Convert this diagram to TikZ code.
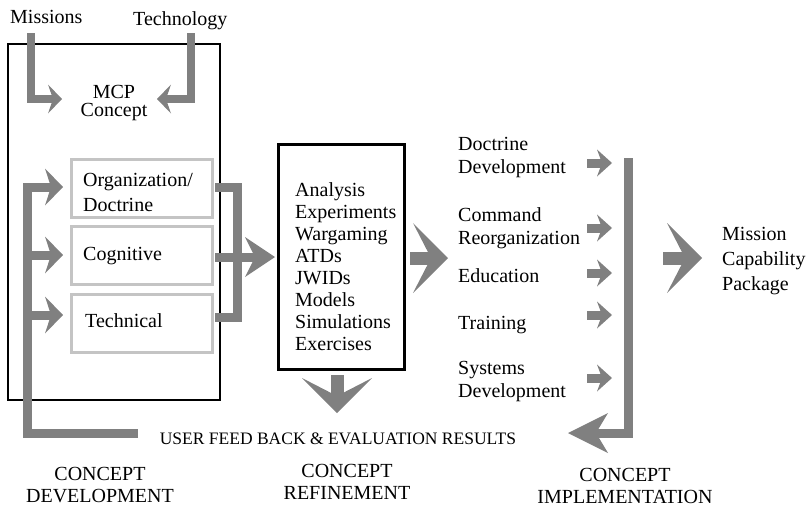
\documentclass[tikz,border=0pt]{standalone}
\usepackage{fontspec}
\setmainfont{Liberation Serif}
\usetikzlibrary{arrows.meta}
\definecolor{flowgray}{HTML}{808080}
\definecolor{boxgray}{HTML}{C4C4C4}
\tikzset{
  flow/.style={draw=flowgray, line width=9pt},
  bigflow/.style={draw=flowgray, line width=13pt},
  txt/.style={inner sep=0pt, align=left, font=\fontsize{20}{23}\selectfont},
  phase/.style={inner sep=0pt, align=center, font=\fontsize{20}{22.5}\selectfont},
  subbox/.style={draw=boxgray, line width=2.5pt, minimum width=141pt,
    minimum height=58pt, inner sep=0pt, anchor=north west},
  tipMC/.style={-{Stealth[length=14pt,width=29pt,inset=5pt,line width=0pt]}},
  tipL/.style={-{Stealth[length=18pt,width=37pt,inset=6pt,line width=0pt]}},
  tipC/.style={-{Stealth[length=30pt,width=40pt,inset=10pt,line width=0pt]}},
  tipBig/.style={-{Stealth[length=35pt,width=70pt,inset=18pt,line width=0pt]}},
  tipS/.style={-{Stealth[length=15pt,width=27pt,inset=5pt,line width=0pt]}},
  tipR/.style={-{Stealth[length=40pt,width=40pt,inset=12pt,line width=0pt]}},
}
\begin{document}
\begin{tikzpicture}[x=1pt, y=-1pt]
\useasboundingbox (0,0) rectangle (807,509);

% ---- inputs and concept development box
\node[txt, anchor=north west] (missions) at (10,10) {Missions};
\node[txt, anchor=north west] (technology) at (133,11) {Technology};
\node[draw=black, line width=1.5pt, minimum width=212pt, minimum height=356pt,
      inner sep=0pt, anchor=north west] (devbox) at (7,43) {};
\node[txt, anchor=north, align=center, font=\fontsize{20}{18.5}\selectfont]
      (mcp) at (114,85) {MCP\\Concept};

\node[subbox] (org)  at (70,158) {};
\node[subbox] (cog)  at (70,225) {};
\node[subbox] (tech) at (70,293) {};
\node[txt, anchor=north west, font=\fontsize{20}{25}\selectfont]
      (orgtxt) at (83,173) {Organization/\\Doctrine};
\node[txt, anchor=north west] (cogtxt) at (83,247) {Cognitive};
\node[txt, anchor=north west] (techtxt) at (85,313) {Technical};

% ---- concept refinement box
\node[draw=black, line width=3pt, minimum width=126pt, minimum height=225pt,
      inner sep=0pt, anchor=north west] (refbox) at (277,143) {};
\node[txt, anchor=north west, font=\fontsize{20}{22}\selectfont] (methods) at (295,182)
  {Analysis\\Experiments\\Wargaming\\ATDs\\JWIDs\\Models\\Simulations\\Exercises};

% ---- implementation items
\node[txt, anchor=north west] (doctrine)  at (458,137) {Doctrine\\Development};
\node[txt, anchor=north west] (command)   at (458,207) {Command\\Reorganization};
\node[txt, anchor=north west] (education) at (458,268) {Education};
\node[txt, anchor=north west] (training)  at (458,316) {Training};
\node[txt, anchor=north west] (systems)   at (458,361) {Systems\\Development};
\node[txt, anchor=north west, font=\fontsize{20}{25}\selectfont] (package) at (722,227)
  {Mission\\Capability\\Package};

% ---- bottom labels
\node[inner sep=0pt, anchor=north, font=\fontsize{17.5}{20}\selectfont]
      (feedback) at (338,433) {USER FEED BACK \& EVALUATION RESULTS};
\node[phase, anchor=north] (cdev) at (100,467) {CONCEPT\\DEVELOPMENT};
\node[phase, anchor=north] (cref) at (347,464) {CONCEPT\\REFINEMENT};
\node[phase, anchor=north] (cimp) at (625,468) {CONCEPT\\IMPLEMENTATION};

% ---- inputs into the MCP concept
\coordinate (m0) at (31,33);
\coordinate (t0) at (191,33);
\draw[flow, line width=8pt, tipMC] (m0) |- (62,99);
\draw[flow, line width=8pt, tipMC] (t0) |- (157,99);

% ---- feedback loop into the three areas
\coordinate (fb0) at (138,433);
\draw[flow, tipL] (fb0) -- (27,433) |- (63,187);
\draw[flow, tipL] (27,255) -- (63,255);
\draw[flow, tipL] (27,315) -- (63,315);

% ---- the three areas feed refinement
\draw[flow] (215,187) -| (237,317) -- (215,317);
\draw[flow, tipC] (215,257) -- (275,257);

% ---- refinement outputs
\draw[bigflow, tipBig] (410,258) -- (448,258);
\draw[bigflow, tipBig] (337,375) -- (337,413);

% ---- implementation items into the package
\foreach \yy in {163,228,273,315,378}
  \draw[flow, tipS] (587,\yy) -- (612,\yy);
\draw[flow, tipR] (628,158) -- (628,433) -- (568,433);
\draw[bigflow, tipBig] (663,258) -- (702,258);
\end{tikzpicture}
\end{document}
